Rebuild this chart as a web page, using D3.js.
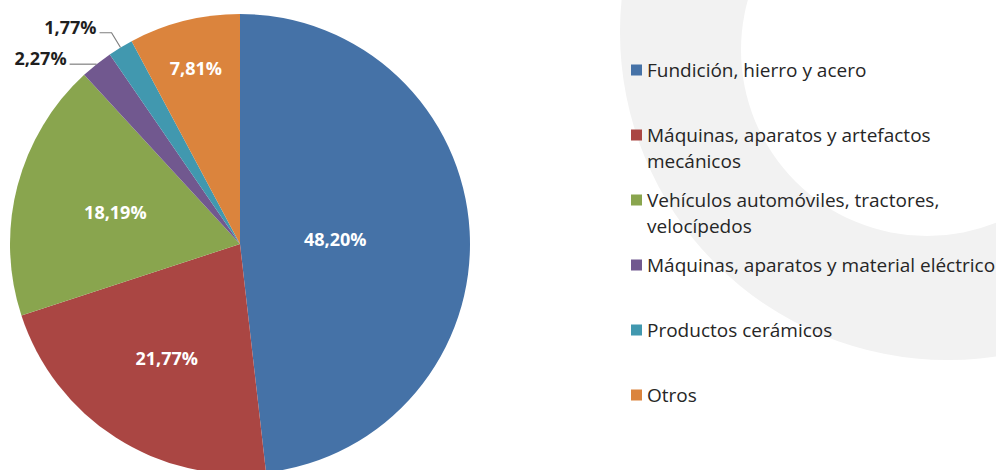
<!DOCTYPE html>
<html>
<head>
<meta charset="utf-8">
<script src="https://cdn.jsdelivr.net/npm/d3@7"></script>
<style>
  html, body { margin: 0; padding: 0; background: #ffffff; }
  svg { display: block; }
</style>
</head>
<body>
<svg id="chart" width="996" height="470"></svg>
<script>
// ---- Data ----
const categories = [
  "Fundición, hierro y acero",
  "Máquinas, aparatos y artefactos mecánicos",
  "Vehículos automóviles, tractores, velocípedos",
  "Máquinas, aparatos y material eléctrico",
  "Productos cerámicos",
  "Otros"
];
const legendLines = [
  ["Fundición, hierro y acero"],
  ["Máquinas, aparatos y artefactos", "mecánicos"],
  ["Vehículos automóviles, tractores,", "velocípedos"],
  ["Máquinas, aparatos y material eléctrico"],
  ["Productos cerámicos"],
  ["Otros"]
];
const values = [48.20, 21.77, 18.19, 2.27, 1.77, 7.81];
const valueLabels = ["48,20%", "21,77%", "18,19%", "2,27%", "1,77%", "7,81%"];
const colors = ["#4572A7", "#AA4643", "#89A54E", "#71588F", "#4198AF", "#DB843D"];

// label placement (fraction of radius); outside labels use leader lines
const labelRadius = [0.415, 0.59, 0.56, null, null, 0.79];
const outsideElbow = [null, null, null, 1.0, 1.075, null];
const outsideLeg = [null, null, null, 27, 12, null];

// ---- Layout ----
const svg = d3.select("#chart");
const W = 996, H = 470;
const cx = 240, cy = 244, R = 230;

// decorative background ring
const bg = svg.append("g");
const ringPath = d3.path();
ringPath.arc(948, 32, 328, 0, 2 * Math.PI);
ringPath.moveTo(927 + 186, 50);
ringPath.arc(927, 50, 186, 0, 2 * Math.PI);
bg.append("path")
  .attr("d", ringPath.toString())
  .attr("fill", "#f2f2f2")
  .attr("fill-rule", "evenodd");

const pie = d3.pie().sort(null).value(d => d)(values);
const arc = d3.arc().innerRadius(0).outerRadius(R);

const g = svg.append("g").attr("transform", `translate(${cx},${cy})`);

g.selectAll("path.slice")
  .data(pie)
  .join("path")
  .attr("class", "slice")
  .attr("d", arc)
  .attr("fill", (d, i) => colors[i]);

const polar = (a, r) => [r * Math.sin(a), -r * Math.cos(a)];

// labels
pie.forEach((d, i) => {
  const mid = (d.startAngle + d.endAngle) / 2;
  if (labelRadius[i] != null) {
    const [x, y] = polar(mid, R * labelRadius[i]);
    g.append("text")
      .attr("x", x).attr("y", y)
      .attr("text-anchor", "middle")
      .attr("dominant-baseline", "central")
      .attr("font-family", "'Open Sans', sans-serif")
      .attr("font-weight", "bold")
      .attr("font-size", 18)
      .attr("fill", "#ffffff")
      .text(valueLabels[i]);
  } else {
    const edge = polar(mid, R);
    const elbow = polar(mid, R * outsideElbow[i]);
    const endX = elbow[0] - outsideLeg[i];
    g.append("polyline")
      .attr("points", [[edge[0], edge[1]], [elbow[0], elbow[1]], [endX, elbow[1]]].map(p => p.join(",")).join(" "))
      .attr("fill", "none")
      .attr("stroke", "#7f7f7f")
      .attr("stroke-width", 1.2);
    g.append("text")
      .attr("x", endX - 3).attr("y", elbow[1] - 6)
      .attr("text-anchor", "end")
      .attr("dominant-baseline", "central")
      .attr("font-family", "'Open Sans', sans-serif")
      .attr("font-weight", "bold")
      .attr("font-size", 18)
      .attr("fill", "#1f1f1f")
      .text(valueLabels[i]);
  }
});

// legend
const legendY = d3.scalePoint().domain(d3.range(categories.length)).range([70, 395]);
const lg = svg.append("g");
categories.forEach((c, i) => {
  const y0 = legendY(i);
  lg.append("rect")
    .attr("x", 631).attr("y", y0 - 5.5)
    .attr("width", 11).attr("height", 11)
    .attr("fill", colors[i]);
  legendLines[i].forEach((line, j) => {
    lg.append("text")
      .attr("x", 647).attr("y", y0 + j * 26)
      .attr("dominant-baseline", "central")
      .attr("font-family", "'Open Sans', sans-serif")
      .attr("font-size", 19)
      .attr("fill", "#262626")
      .text(line);
  });
});
</script>
</body>
</html>
